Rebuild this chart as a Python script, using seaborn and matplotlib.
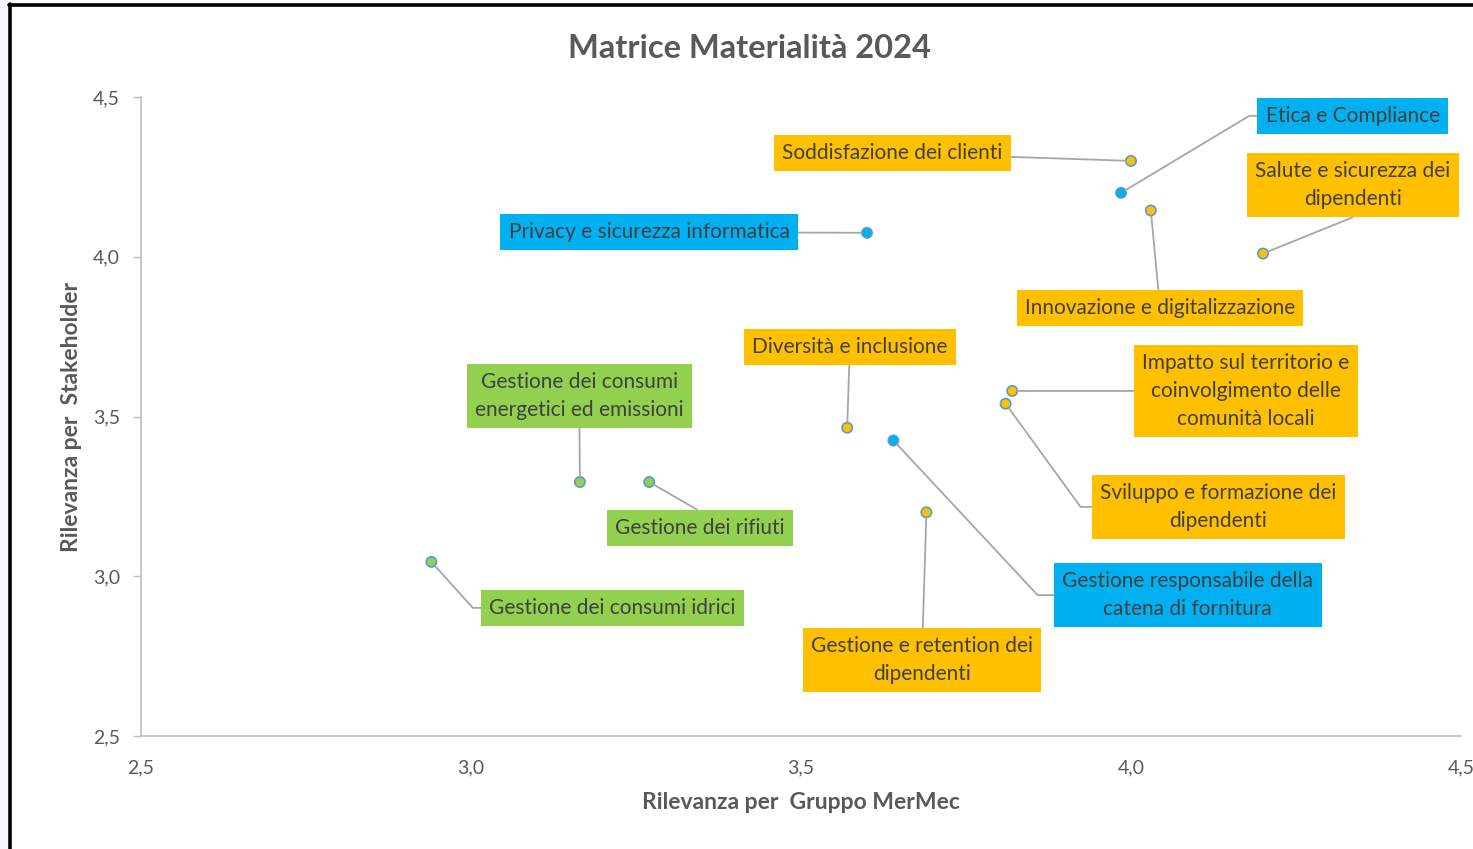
import matplotlib
matplotlib.use("Agg")
import matplotlib.pyplot as plt
from matplotlib.lines import Line2D
from matplotlib.patches import Rectangle
from matplotlib.ticker import FuncFormatter
import seaborn as sns
import pandas as pd

# data
topics = [
    "Soddisfazione dei clienti",
    "Etica e Compliance",
    "Innovazione e digitalizzazione",
    "Salute e sicurezza dei\ndipendenti",
    "Privacy e sicurezza informatica",
    "Impatto sul territorio e\ncoinvolgimento delle\ncomunità locali",
    "Sviluppo e formazione dei\ndipendenti",
    "Diversità e inclusione",
    "Gestione responsabile della\ncatena di fornitura",
    "Gestione e retention dei\ndipendenti",
    "Gestione dei consumi\nenergetici ed emissioni",
    "Gestione dei rifiuti",
    "Gestione dei consumi idrici",
]
rilevanza_gruppo = [4.00, 3.985, 4.03, 4.20, 3.60, 3.82, 3.81, 3.57, 3.64, 3.69, 3.165, 3.27, 2.94]
rilevanza_stakeholder = [4.30, 4.20, 4.145, 4.01, 4.075, 3.58, 3.54, 3.465, 3.425, 3.20, 3.295, 3.295, 3.045]
area = ["social", "governance", "social", "social", "governance", "social", "social",
        "social", "governance", "social", "environment", "environment", "environment"]

area_colors = {"social": "#FFC000", "governance": "#00B0F0", "environment": "#92D050"}

# label placement (data coords) and leader style: None = straight, (angleA, angleB) = elbow
label_pos = [
    (3.638, 4.325, None),
    (4.336, 4.441, (0, 31)),
    (4.044, 3.840, None),
    (4.336, 4.225, (90, 22)),
    (3.270, 4.077, None),
    (4.174, 3.580, None),
    (4.132, 3.217, (0, -54)),
    (3.574, 3.718, None),
    (4.086, 2.941, (0, -47)),
    (3.683, 2.738, None),
    (3.164, 3.564, None),
    (3.347, 3.151, (90, -30)),
    (3.214, 2.901, (0, -48)),
]

df = pd.DataFrame({"topic": topics, "gruppo": rilevanza_gruppo,
                   "stakeholder": rilevanza_stakeholder, "area": area})

sns.set_theme(style="white")
plt.rcParams["font.family"] = ["Lato", "DejaVu Sans"]

fig = plt.figure(figsize=(14.73, 8.49), dpi=100)
ax = fig.add_axes([141 / 1473, 1 - 736 / 849, 1320 / 1473, 639 / 849])

sns.scatterplot(data=df, x="gruppo", y="stakeholder", hue="area", palette=area_colors,
                s=55, edgecolor="#5B9BD5", linewidth=1.2, legend=False, ax=ax, zorder=3)

for i, row in df.iterrows():
    lx, ly, elbow = label_pos[i]
    if elbow is None:
        conn = "arc3,rad=0"
    else:
        conn = f"angle,angleA={elbow[0]},angleB={elbow[1]},rad=0"
    ax.annotate(row["topic"], xy=(row["gruppo"], row["stakeholder"]), xytext=(lx, ly),
                ha="center", va="center", fontsize=15, color="#404040",
                linespacing=1.5, multialignment="center",
                bbox=dict(boxstyle="square,pad=0.4", fc=area_colors[row["area"]], ec="none"),
                arrowprops=dict(arrowstyle="-", color="#A6A6A6", lw=1.3,
                                connectionstyle=conn, shrinkA=0, shrinkB=4),
                zorder=4)

ax.set_xlim(2.5, 4.5)
ax.set_ylim(2.5, 4.5)
ax.set_xticks([2.5, 3.0, 3.5, 4.0, 4.5])
ax.set_yticks([2.5, 3.0, 3.5, 4.0, 4.5])
comma = FuncFormatter(lambda v, p: f"{v:.1f}".replace(".", ","))
ax.xaxis.set_major_formatter(comma)
ax.yaxis.set_major_formatter(comma)
ax.tick_params(axis="x", length=0, pad=17, labelsize=14, labelcolor="#595959")
ax.tick_params(axis="y", length=6, width=1, color="#BFBFBF", direction="out", pad=9,
               labelsize=14, labelcolor="#595959", left=True)

for side in ["top", "right"]:
    ax.spines[side].set_visible(False)
for side in ["left", "bottom"]:
    ax.spines[side].set_color("#BFBFBF")
    ax.spines[side].set_linewidth(1.2)

ax.set_xlabel("Rilevanza per  Gruppo MerMec", fontsize=16.5, fontweight="bold",
              color="#595959", labelpad=11)
ax.set_ylabel("Rilevanza per  Stakeholder", fontsize=16.5, fontweight="bold",
              color="#595959", labelpad=8)
fig.text(750 / 1473, 1 - 49 / 849, "Matrice Materialità 2024", ha="center", va="center",
         fontsize=23.5, fontweight="bold", color="#595959")

# sheet margin and chart frame of the screenshot
fig.add_artist(Rectangle((0, 0), 8 / 1473, 1, transform=fig.transFigure,
                         fc="#F4F6FA", ec="none"))
fig.add_artist(Line2D([9.5 / 1473, 9.5 / 1473], [0, 1 - 4 / 849],
                      transform=fig.transFigure, color="black", lw=2.6))
fig.add_artist(Line2D([8.5 / 1473, 1], [1 - 5 / 849, 1 - 5 / 849],
                      transform=fig.transFigure, color="black", lw=2.6))

fig.savefig("out.png", dpi=100)
